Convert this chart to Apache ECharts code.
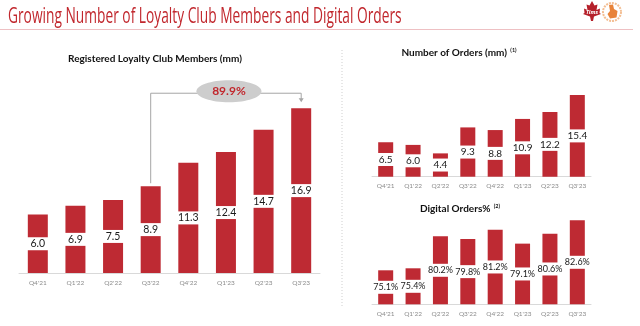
<!DOCTYPE html>
<html>
<head>
<meta charset="utf-8">
<script src="https://cdn.jsdelivr.net/npm/echarts@6/dist/echarts.min.js"></script>
<style>
  html, body { margin: 0; padding: 0; background: #fff; }
  #chart { width: 640px; height: 326px; }
</style>
</head>
<body>
<div id="chart"></div>
<script>
// Quarterly loyalty and digital order metrics
const quarters = ["Q4'21", "Q1'22", "Q2'22", "Q3'22", "Q4'22", "Q1'23", "Q2'23", "Q3'23"];
const loyaltyMembers = [6.0, 6.9, 7.5, 8.9, 11.3, 12.4, 14.7, 16.9];
const orderCounts = [6.5, 6.0, 4.4, 9.3, 8.8, 10.9, 12.2, 15.4];
const digitalShare = [75.1, 75.4, 80.2, 79.8, 81.2, 79.1, 80.6, 82.6];
const memberGrowth = '89.9%';
const growthFrom = 3; // Q3'22
const growthTo = 7;   // Q3'23

const RED = '#BE2A33';
const LABEL_FONT = "Lato, sans-serif";

const chart = echarts.init(document.getElementById('chart'), null, { renderer: 'canvas' });

function valueLabel(suffix, boxWidth, size) {
  return {
    show: true,
    position: 'inside',
    color: '#1a1a1a',
    fontFamily: LABEL_FONT,
    fontSize: size,
    backgroundColor: '#fff',
    width: boxWidth,
    align: 'center',
    lineHeight: 11,
    padding: [1, 1],
    formatter: p => p.value.toFixed(1) + suffix
  };
}

function catAxis(gridIndex) {
  return {
    type: 'category',
    gridIndex,
    data: quarters,
    axisLine: { lineStyle: { color: '#d9d9d9', width: 1 } },
    axisTick: { show: false },
    axisLabel: { color: '#8c8c8c', fontSize: 6.5, margin: 6, fontFamily: 'Lato, sans-serif' }
  };
}

function valAxis(gridIndex, min, max) {
  return {
    type: 'value', gridIndex, min, max,
    show: false, splitLine: { show: false }
  };
}

const option = {
  animation: false,
  grid: [
    { left: 19, width: 301, top: 78, height: 195, outerBoundsMode: 'none' },
    { left: 372, width: 219, top: 70.7, height: 106, outerBoundsMode: 'none' },
    { left: 372, width: 219, top: 204.3, height: 100, outerBoundsMode: 'none' }
  ],
  xAxis: [catAxis(0), catAxis(1), catAxis(2)],
  yAxis: [valAxis(0, 0, 20), valAxis(1, 0, 20), valAxis(2, 70, 85)],
  series: [
    {
      type: 'bar', xAxisIndex: 0, yAxisIndex: 0, data: loyaltyMembers,
      barWidth: 20, itemStyle: { color: RED },
      label: valueLabel('', 20, 10.5)
    },
    {
      type: 'bar', xAxisIndex: 1, yAxisIndex: 1, data: orderCounts,
      barWidth: 15, itemStyle: { color: RED },
      label: valueLabel('', 15, 10)
    },
    {
      type: 'bar', xAxisIndex: 2, yAxisIndex: 2, data: digitalShare,
      barWidth: 15, itemStyle: { color: RED },
      label: valueLabel('%', 15, 9)
    }
  ]
};
chart.setOption(option);

// Growth connector from Q3'22 to Q3'23 members bar
const pFrom = chart.convertToPixel({ seriesIndex: 0 }, [growthFrom, loyaltyMembers[growthFrom]]);
const pTo = chart.convertToPixel({ seriesIndex: 0 }, [growthTo, loyaltyMembers[growthTo]]);
const lineY = pTo[1] - 15;
const midX = (pFrom[0] + pTo[0]) / 2 + 3;

const graphics = [
  // page title
  {
    type: 'text', x: 8, y: 17, scaleX: 0.655,
    style: {
      text: 'Growing Number of Loyalty Club Members and Digital Orders',
      fill: '#C1272D', font: "21px 'Open Sans', sans-serif",
      textVerticalAlign: 'middle'
    }
  },
  {
    type: 'line', shape: { x1: 0, y1: 29.5, x2: 633, y2: 29.5 },
    style: { stroke: '#EEC0C3', lineWidth: 1 }
  },
  // brand marks
  {
    type: 'polygon',
    shape: { points: [[592,1],[594.5,5.5],[597.5,4.5],[596.5,10],[600,8.5],[599.5,13],[601,14],[594,16.5],[593,21],[591,21],[590,16.5],[583,14],[584.5,13],[584,8.5],[587.5,10],[586.5,4.5],[589.5,5.5]] },
    style: { fill: '#B5202A' }
  },
  {
    type: 'text', x: 592, y: 12,
    style: { text: 'Tims', fill: '#fff', font: "italic bold 5.5px 'Open Sans'", textAlign: 'center', textVerticalAlign: 'middle' }
  },
  {
    type: 'circle', shape: { cx: 612, cy: 12, r: 9 },
    style: { fill: 'none', stroke: '#F3BE93', lineWidth: 2, lineDash: [2, 1] }
  },
  {
    type: 'polygon',
    shape: { points: [[609,5],[613,4.5],[614,9],[617.5,11],[616.5,17.5],[610,18.5],[607.5,14],[610,11]] },
    style: { fill: '#E8833A' }
  },
  // divider
  {
    type: 'line', shape: { x1: 342, y1: 50, x2: 342, y2: 308 },
    style: { stroke: '#cfcfcf', lineWidth: 1, lineDash: [1, 2] }
  },
  // chart titles
  {
    type: 'text', x: 155, y: 59,
    style: {
      text: 'Registered Loyalty Club Members (mm)', fill: '#111',
      font: "bold 10px Lato, sans-serif", textAlign: 'center', textVerticalAlign: 'middle'
    }
  },
  {
    type: 'text', x: 459, y: 53,
    style: {
      text: '{t|Number of Orders (mm)} {s|(1)}',
      textAlign: 'center', textVerticalAlign: 'middle',
      rich: {
        t: { fontFamily: 'Lato, sans-serif', fontWeight: 'bold', fontSize: 10, fill: '#111', lineHeight: 12 },
        s: { fontFamily: 'Lato, sans-serif', fontWeight: 'bold', fontSize: 5.5, fill: '#111', verticalAlign: 'top', lineHeight: 12 }
      }
    }
  },
  {
    type: 'text', x: 460, y: 209,
    style: {
      text: '{t|Digital Orders%} {s|(2)}',
      textAlign: 'center', textVerticalAlign: 'middle',
      rich: {
        t: { fontFamily: 'Lato, sans-serif', fontWeight: 'bold', fontSize: 10, fill: '#111', lineHeight: 12 },
        s: { fontFamily: 'Lato, sans-serif', fontWeight: 'bold', fontSize: 5.5, fill: '#111', verticalAlign: 'top', lineHeight: 12 }
      }
    }
  },
  // growth connector
  {
    type: 'polyline',
    shape: { points: [[pFrom[0], pFrom[1] - 3], [pFrom[0], lineY], [pTo[0], lineY], [pTo[0], lineY + 6]] },
    style: { stroke: '#a6a6a6', lineWidth: 1, fill: 'none' }
  },
  {
    type: 'polygon',
    shape: { points: [[pTo[0] - 2.5, lineY + 5], [pTo[0] + 2.5, lineY + 5], [pTo[0], lineY + 9]] },
    style: { fill: '#a6a6a6' }
  },
  {
    type: 'ellipse', shape: { cx: midX, cy: lineY - 2, rx: 32.5, ry: 11 },
    style: { fill: '#CDCDCD' }
  },
  {
    type: 'text', x: midX, y: lineY - 2,
    style: {
      text: memberGrowth, fill: '#C1272D',
      font: "bold 12px Lato, sans-serif", textAlign: 'center', textVerticalAlign: 'middle'
    }
  }
];

chart.setOption({ graphic: { elements: graphics } });
</script>
</body>
</html>
